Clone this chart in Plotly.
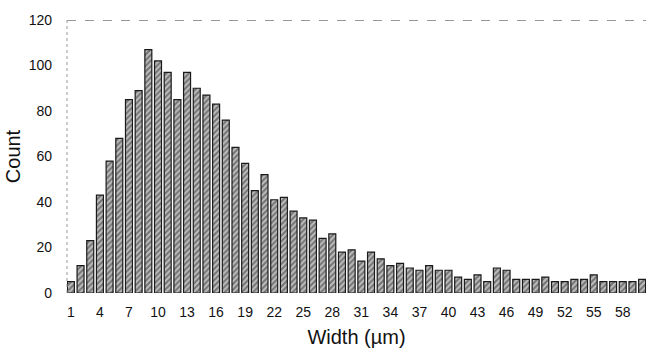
import plotly.graph_objects as go

widths = list(range(1, 61))
counts = [5, 12, 23, 43, 58, 68, 85, 89, 107, 102,
          97, 85, 97, 90, 87, 83, 76, 64, 57, 45,
          52, 41, 42, 36, 33, 32, 24, 26, 18, 19,
          14, 18, 15, 12, 13, 11, 10, 12, 10, 10,
          7, 6, 8, 5, 11, 10, 6, 6, 6, 7,
          5, 5, 6, 6, 8, 5, 5, 5, 5, 6]
x_ticks = list(range(1, 61, 3))
y_ticks = [0, 20, 40, 60, 80, 100, 120]

fig = go.Figure(go.Bar(
    x=widths, y=counts, width=0.72,
    marker=dict(color="#8a8a8a",
                line=dict(color="#1a1a1a", width=1.2),
                pattern=dict(shape="/", fgcolor="#2a2a2a", bgcolor="#bdbdbd",
                             size=4, solidity=0.5)),
))

fig.update_layout(
    width=646, height=352,
    margin=dict(l=67, r=0, t=20, b=59),
    paper_bgcolor="white", plot_bgcolor="white",
    font=dict(family="Liberation Sans, Arial, sans-serif", color="#111", size=14),
    showlegend=False,
    shapes=[
        dict(type="line", xref="paper", yref="y", x0=0, x1=1, y0=120, y1=120,
             line=dict(color="#333", width=1, dash="dash")),
        dict(type="line", xref="paper", yref="paper", x0=0, x1=0, y0=0, y1=1,
             line=dict(color="#999", width=1, dash="dot")),
    ],
)
fig.update_xaxes(range=[0.6, 60.4], tickmode="array", tickvals=x_ticks,
                 ticktext=[str(v) for v in x_ticks], showgrid=False, zeroline=False,
                 showline=False, ticks="", ticklabelstandoff=9,
                 title=dict(text="Width (µm)", font=dict(size=20), standoff=10))
fig.update_yaxes(range=[0, 120], tickmode="array", tickvals=y_ticks,
                 showgrid=False, zeroline=False, showline=False, ticks="",
                 ticklabelstandoff=14,
                 title=dict(text="Count", font=dict(size=20), standoff=2))

fig.write_html("out.html")
